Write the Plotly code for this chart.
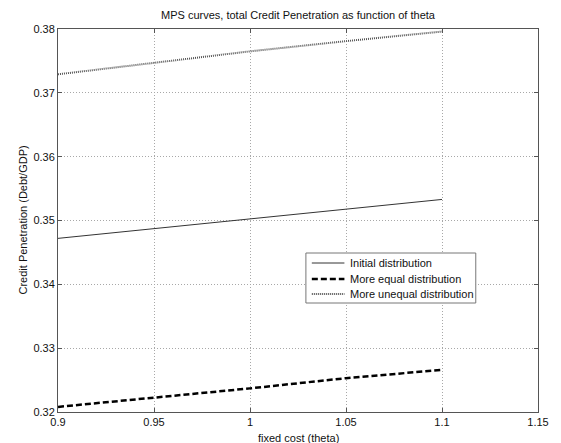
import plotly.graph_objects as go

# fixed cost values and credit penetration for each distribution
theta = [0.9, 0.95, 1.0, 1.05, 1.1]
initial = [0.3472, 0.3487, 0.3502, 0.3518, 0.3533]
more_equal = [0.3208, 0.3222, 0.3237, 0.3253, 0.3266]
more_unequal = [0.3729, 0.3747, 0.3765, 0.3781, 0.3796]

series_names = ["Initial distribution", "More equal distribution", "More unequal distribution"]

x_ticks = [0.9, 0.95, 1.0, 1.05, 1.1, 1.15]
x_tick_text = ["0.9", "0.95", "1", "1.05", "1.1", "1.15"]
y_ticks = [0.32, 0.33, 0.34, 0.35, 0.36, 0.37, 0.38]
y_tick_text = ["0.32", "0.33", "0.34", "0.35", "0.36", "0.37", "0.38"]

font = dict(family="Liberation Sans, Arial, sans-serif", size=11, color="#111")

line_styles = [
    dict(color="#333333", width=1),
    dict(color="#000000", width=2.5, dash="6px,3px"),
    dict(color="#555555", width=2, dash="1px,1px"),
]

fig = go.Figure()
for name, values, style in zip(series_names, [initial, more_equal, more_unequal], line_styles):
    fig.add_trace(go.Scatter(x=theta, y=values, mode="lines", name=name,
                             line=style, showlegend=False))

axis_common = dict(
    showline=True, linecolor="#555555", linewidth=1, mirror="ticks",
    ticks="inside", ticklen=4, tickcolor="#555555",
    showgrid=True, gridcolor="#a8a8a8", griddash="1px,2px", gridwidth=1,
    zeroline=False, tickfont=font,
)

# plot area in pixels, used to place the boxed legend
L, R, T, B = 58, 544, 29, 412
W, H = R - L, B - T


def px(x):
    return (x - L) / W


def py(y):
    return (B - y) / H


shapes = [dict(type="rect", xref="paper", yref="paper",
               x0=px(309), x1=px(481), y0=py(303), y1=py(253),
               line=dict(color="#777777", width=1), fillcolor="white", layer="above")]
annotations = []
row_y = [263, 279, 294]
for name, style, ry in zip(series_names, line_styles, row_y):
    shapes.append(dict(type="line", xref="paper", yref="paper",
                       x0=px(315), x1=px(348), y0=py(ry), y1=py(ry),
                       line=style, layer="above"))
    annotations.append(dict(text=name, xref="paper", yref="paper",
                            x=px(352), y=py(ry), xanchor="left", yanchor="middle",
                            showarrow=False, font=font))

annotations += [
    dict(text="MPS curves, total Credit Penetration as function of theta",
         xref="paper", yref="paper", x=0.5, y=1, yshift=14,
         showarrow=False, font=font, xanchor="center", yanchor="middle"),
    dict(text="fixed cost (theta)", xref="paper", yref="paper",
         x=0.5, y=0, yshift=-26, showarrow=False, font=font,
         xanchor="center", yanchor="middle"),
    dict(text="Credit Penetration (Debt/GDP)", xref="paper", yref="paper",
         x=0, y=0.5, xshift=-36, textangle=-90, showarrow=False, font=font,
         xanchor="center", yanchor="middle"),
]

fig.update_layout(
    width=561, height=443,
    margin=dict(l=L, r=561 - R, t=T, b=443 - B),
    paper_bgcolor="white", plot_bgcolor="white",
    font=font,
    showlegend=False,
    xaxis=dict(range=[0.9, 1.15], tickvals=x_ticks, ticktext=x_tick_text, **axis_common),
    yaxis=dict(range=[0.32, 0.38], tickvals=y_ticks, ticktext=y_tick_text, **axis_common),
    shapes=shapes,
    annotations=annotations,
)

fig.write_html("out.html")
